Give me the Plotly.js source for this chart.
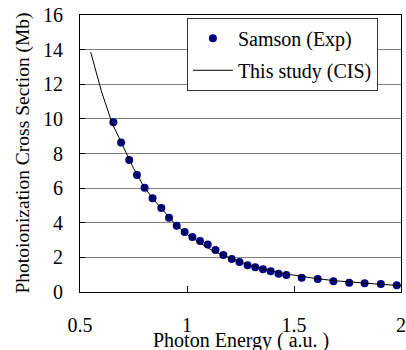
<!DOCTYPE html>
<html>
<head>
<meta charset="utf-8">
<script src="https://cdn.plot.ly/plotly-3.0.1.min.js"></script>
<style>
html,body{margin:0;padding:0;background:#fff;}
#chart{width:406px;height:350px;}
#chart svg text{font-family:'Liberation Serif', 'Times New Roman', serif !important;}
</style>
</head>
<body>
<div id="chart"></div>
<script>
// Samson (Exp) data points
const expEnergy = [0.656,0.692,0.730,0.766,0.802,0.839,0.880,0.916,0.952,0.989,1.025,1.061,1.097,1.133,1.170,1.209,1.245,1.283,1.319,1.355,1.391,1.428,1.464,1.536,1.611,1.684,1.758,1.830,1.906,1.980];
const expSigma  = [9.81,8.63,7.63,6.76,6.02,5.41,4.85,4.29,3.82,3.47,3.17,2.94,2.74,2.43,2.13,1.91,1.74,1.55,1.43,1.31,1.20,1.06,0.98,0.83,0.75,0.62,0.54,0.50,0.46,0.39];
// This study (CIS) curve
const cisEnergy = [0.55,0.6,0.65,0.7,0.75,0.8,0.85,0.9,0.95,1.0,1.05,1.1,1.15,1.2,1.25,1.3,1.35,1.4,1.45,1.5,1.6,1.7,1.8,1.9,2.0];
const cisSigma  = [13.86,11.6,9.75,8.4,7.15,6.05,5.25,4.55,3.85,3.33,2.92,2.52,2.22,1.95,1.72,1.52,1.35,1.20,1.07,0.96,0.78,0.64,0.53,0.45,0.37];
const xTicks = [0.5,1,1.5,2];
const yTicks = [0,2,4,6,8,10,12,14,16];
const xTitle = 'Photon Energy ( a.u. )';
const yTitle = 'Photoionization Cross Section (Mb)';

const FONT = 'Liberation Serif';

const traces = [
  {
    x: expEnergy, y: expSigma, type: 'scatter', mode: 'markers',
    name: 'Samson (Exp)', legendgroup: 'a',
    marker: {color: '#000080', size: 8}
  },
  {
    x: cisEnergy, y: cisSigma, type: 'scatter', mode: 'lines',
    name: 'This study (CIS)', legendgroup: 'b',
    line: {color: '#000000', width: 1}
  }
];

const layout = {
  width: 406, height: 350,
  margin: {l: 80, r: 5, t: 15, b: 58, pad: 0},
  paper_bgcolor: '#fff', plot_bgcolor: '#fff',
  font: {family: FONT, size: 20, color: '#000'},
  showlegend: true,
  legend: {
    x: 0.333, y: 0.99, xanchor: 'left', yanchor: 'top',
    bgcolor: '#fff', bordercolor: '#333', borderwidth: 1,
    font: {family: FONT, size: 20, color: '#000'},
    tracegroupgap: 3, itemwidth: 40
  },
  xaxis: {
    range: [0.5, 2], tickvals: xTicks, ticktext: xTicks.map(String),
    ticks: 'inside', ticklen: 6, tickcolor: '#000', tickwidth: 1,
    showline: true, linecolor: '#000', linewidth: 1, mirror: true,
    showgrid: false, zeroline: false,
    ticklabelstandoff: 15,
    tickfont: {family: FONT, size: 20, color: '#000'},
    automargin: false
  },
  yaxis: {
    range: [0, 16], tickvals: yTicks, ticktext: yTicks.map(String),
    ticks: 'inside', ticklen: 5, tickcolor: '#000', tickwidth: 1,
    showline: true, linecolor: '#000', linewidth: 1, mirror: true,
    showgrid: true, gridcolor: '#808080', gridwidth: 1, zeroline: false,
    ticklabelstandoff: 12,
    tickfont: {family: FONT, size: 20, color: '#000'},
    automargin: false
  },
  annotations: [
    {text: xTitle, xref: 'paper', yref: 'paper', x: 0.5, y: 0, xanchor: 'center', yanchor: 'middle',
     yshift: -48, showarrow: false, font: {family: FONT, size: 20, color: '#000'}},
    {text: yTitle, xref: 'paper', yref: 'paper', x: 0, y: 0.5, xanchor: 'center', yanchor: 'middle',
     xshift: -58, textangle: -90, showarrow: false, font: {family: FONT, size: 19.5, color: '#000'}}
  ]
};

Plotly.newPlot('chart', traces, layout, {displayModeBar: false, staticPlot: true});
</script>
</body>
</html>
